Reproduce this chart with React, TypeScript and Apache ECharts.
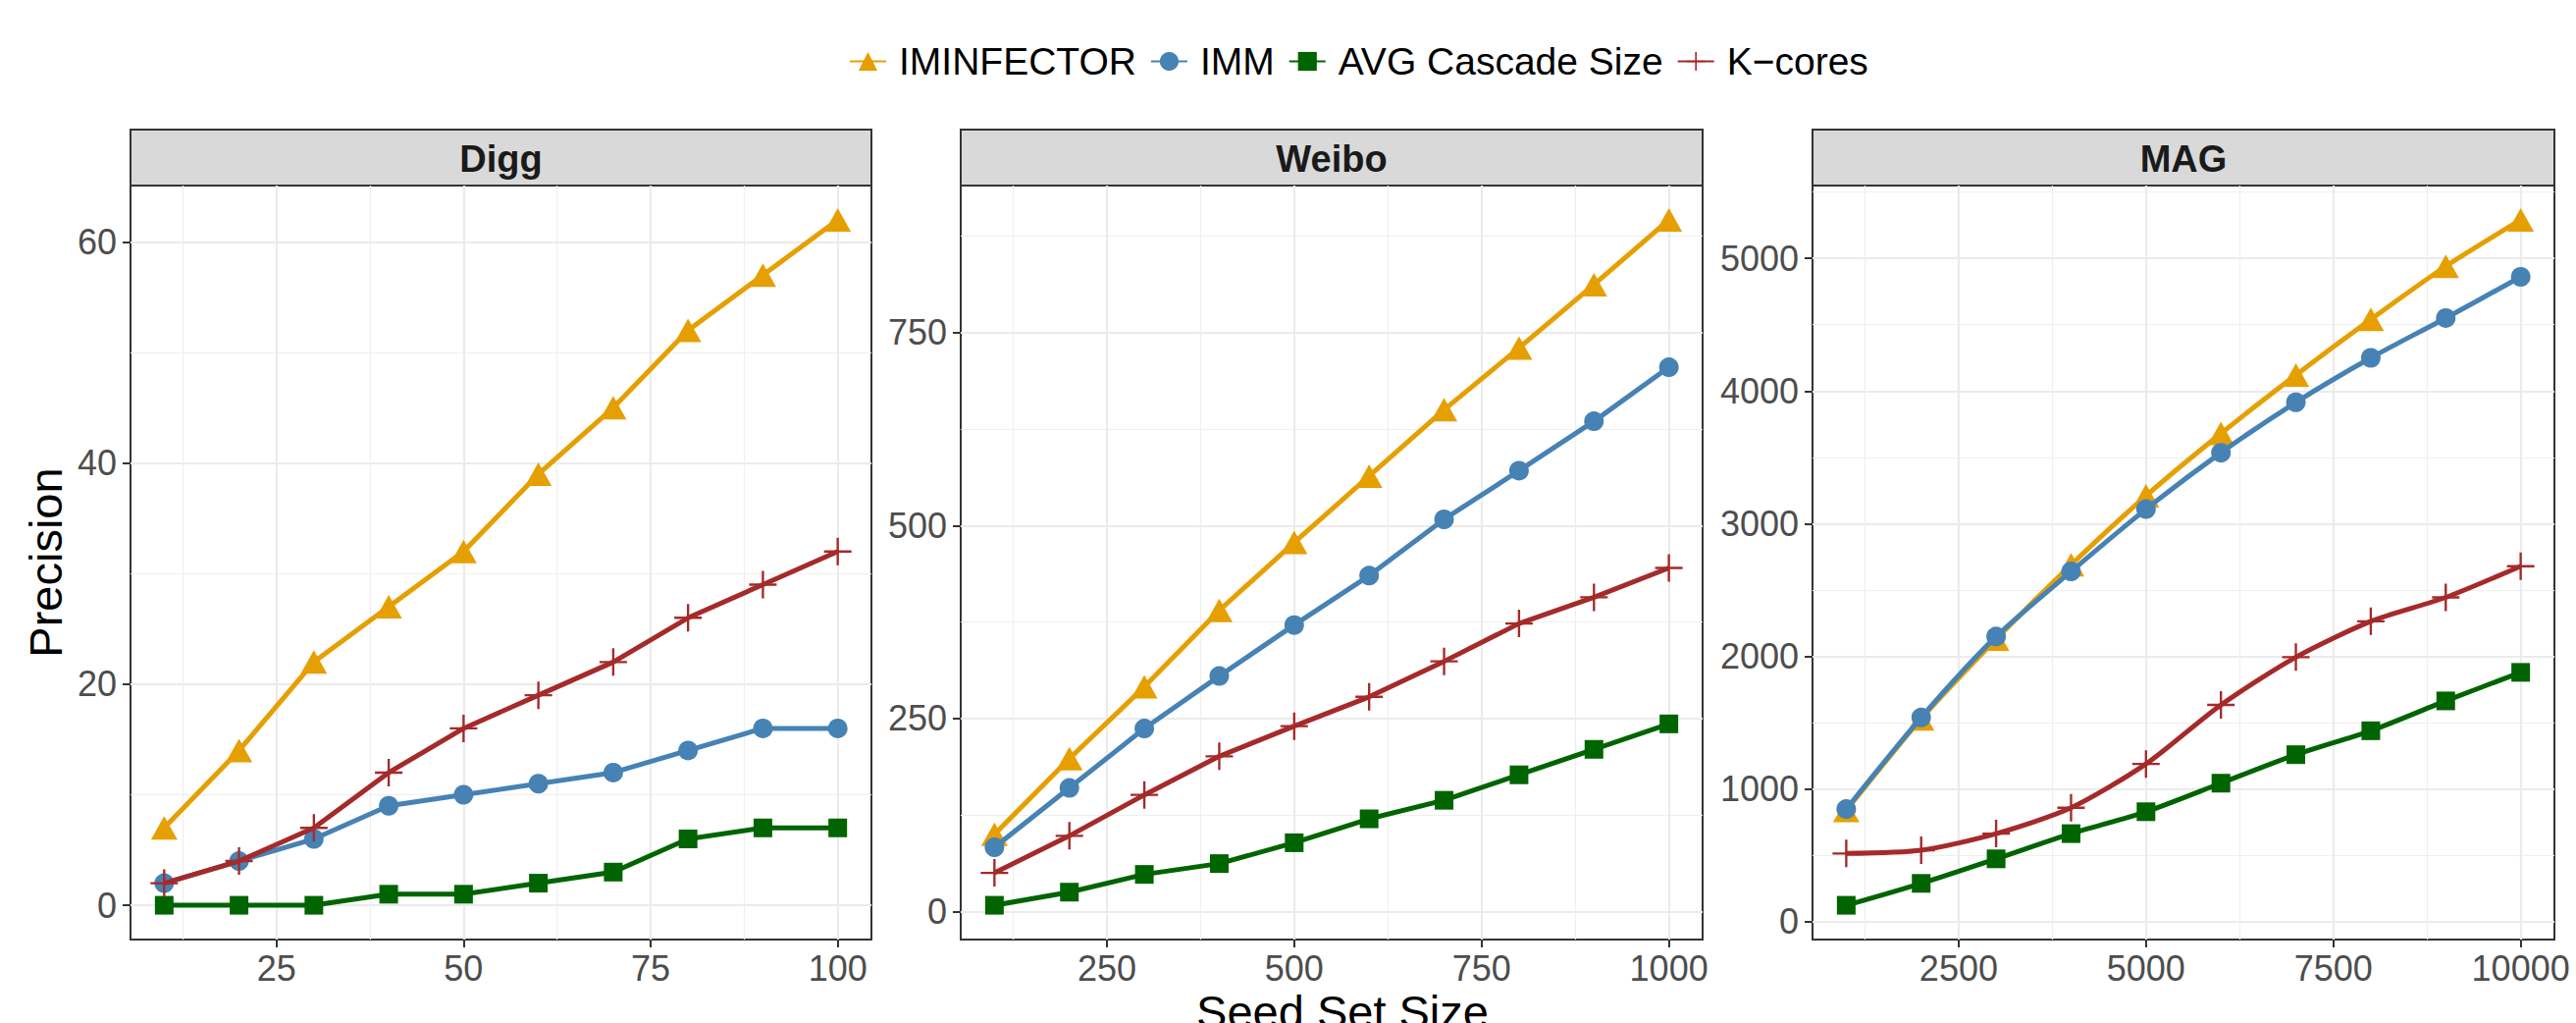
import React, { useEffect, useRef } from "react";
import * as echarts from "echarts";

const seriesNames = ["IMINFECTOR", "IMM", "AVG Cascade Size", "K−cores"];
const panelTitles = ["Digg", "Weibo", "MAG"];

const diggX = [10, 20, 30, 40, 50, 60, 70, 80, 90, 100];
const diggIminfector = [7, 14, 22, 27, 32, 39, 45, 52, 57, 62];
const diggImm = [2, 4, 6, 9, 10, 11, 12, 14, 16, 16];
const diggAvg = [0, 0, 0, 1, 1, 2, 3, 6, 7, 7];
const diggKcores = [2, 4, 7, 12, 16, 19, 22, 26, 29, 32];

const weiboX = [100, 200, 300, 400, 500, 600, 700, 800, 900, 1000];
const weiboIminfector = [100, 198, 291, 390, 478, 564, 650, 730, 812, 896];
const weiboImm = [83, 160, 237, 305, 371, 435, 508, 571, 635, 705];
const weiboAvg = [8, 25, 48, 62, 89, 120, 144, 177, 210, 243];
const weiboKcores = [50, 98, 151, 201, 240, 278, 324, 373, 407, 445];

const magX = [1000, 2000, 3000, 4000, 5000, 6000, 7000, 8000, 9000, 10000];
const magIminfector = [840, 1530, 2130, 2690, 3210, 3680, 4120, 4540, 4940, 5290];
const magImm = [850, 1540, 2150, 2640, 3110, 3535, 3915, 4250, 4550, 4860];
const magAvg = [125, 290, 475, 665, 830, 1045, 1260, 1440, 1665, 1880];
const magKcores = [515, 540, 665, 860, 1190, 1635, 1995, 2265, 2445, 2680];

const diggXTicks = [25, 50, 75, 100];
const diggXMinor = [12.5, 37.5, 62.5, 87.5];
const diggYTicks = [0, 20, 40, 60];
const diggYMinor = [10, 30, 50];

const weiboXTicks = [250, 500, 750, 1000];
const weiboXMinor = [125, 375, 625, 875];
const weiboYTicks = [0, 250, 500, 750];
const weiboYMinor = [125, 375, 625, 875];

const magXTicks = [2500, 5000, 7500, 10000];
const magXMinor = [1250, 3750, 6250, 8750];
const magYTicks = [0, 1000, 2000, 3000, 4000, 5000];
const magYMinor = [500, 1500, 2500, 3500, 4500, 5500];

const FONT = "'Liberation Sans', Arial, Helvetica, sans-serif";
const COLORS = ["#E69F00", "#4682B4", "#006400", "#A52A2A"];
const PLUS =
  "path://M-1.1,-13L1.1,-13L1.1,-1.1L13,-1.1L13,1.1L1.1,1.1L1.1,13L-1.1,13L-1.1,1.1L-13,1.1L-13,-1.1L-1.1,-1.1Z";
const SYMBOLS: any[] = ["triangle", "circle", "rect", PLUS];
const SYMBOL_SIZES: any[] = [[27, 24], 20, 19, 28];

const panels = [
  {
    x: diggX,
    ys: [diggIminfector, diggImm, diggAvg, diggKcores],
    xTicks: diggXTicks, xMinor: diggXMinor, yTicks: diggYTicks, yMinor: diggYMinor,
    smooth: false,
  },
  {
    x: weiboX,
    ys: [weiboIminfector, weiboImm, weiboAvg, weiboKcores],
    xTicks: weiboXTicks, xMinor: weiboXMinor, yTicks: weiboYTicks, yMinor: weiboYMinor,
    smooth: false,
  },
  {
    x: magX,
    ys: [magIminfector, magImm, magAvg, magKcores],
    xTicks: magXTicks, xMinor: magXMinor, yTicks: magYTicks, yMinor: magYMinor,
    smooth: 0.25,
  },
];

const gridLefts = [133, 979, 1847];
const gridWidths = [755, 756, 756];
const gridTop = 189;
const gridHeight = 768;
const stripTop = 132;

function expand(vals: number[]) {
  const mn = Math.min(...vals);
  const mx = Math.max(...vals);
  const r = mx - mn;
  return [mn - 0.05 * r, mx + 0.05 * r];
}

const plain = (v: number) => String(v);

export default function App() {
  const ref = useRef<HTMLDivElement>(null);
  useEffect(() => {
    if (!ref.current) return;
    const chart = echarts.init(ref.current, null, { renderer: "svg" });
    const grids: any[] = [];
    const xAxes: any[] = [];
    const yAxes: any[] = [];
    const series: any[] = [];
    const graphics: any[] = [];

    panels.forEach((p, i) => {
      grids.push({
        left: gridLefts[i],
        top: gridTop,
        width: gridWidths[i],
        height: gridHeight,
        show: true,
        backgroundColor: "#FFFFFF",
        borderColor: "#333333",
        borderWidth: 2,
        containLabel: false,
      });
      const [xmin, xmax] = expand(p.x);
      const [ymin, ymax] = expand(p.ys.flat());
      xAxes.push({
        type: "value",
        gridIndex: i,
        position: "bottom",
        min: xmin,
        max: xmax,
        axisLine: { show: false, onZero: false },
        axisTick: { show: true, length: 8, customValues: p.xTicks, lineStyle: { color: "#333333", width: 2 } },
        axisLabel: {
          customValues: p.xTicks,
          formatter: plain,
          fontSize: 36,
          color: "#4D4D4D",
          fontFamily: FONT,
          margin: 11,
        },
        splitLine: { show: true, lineStyle: { color: "#EBEBEB", width: 2.2 } },
      });
      xAxes.push({
        type: "value",
        gridIndex: i,
        position: "top",
        min: xmin,
        max: xmax,
        axisLine: { show: false, onZero: false },
        axisTick: { show: false, customValues: p.xMinor },
        axisLabel: { show: false, customValues: p.xMinor },
        splitLine: { show: true, lineStyle: { color: "#EFEFEF", width: 1.2 } },
      });
      yAxes.push({
        type: "value",
        gridIndex: i,
        position: "left",
        min: ymin,
        max: ymax,
        axisLine: { show: false, onZero: false },
        axisTick: { show: true, length: 8, customValues: p.yTicks, lineStyle: { color: "#333333", width: 2 } },
        axisLabel: {
          customValues: p.yTicks,
          formatter: plain,
          fontSize: 36,
          color: "#4D4D4D",
          fontFamily: FONT,
          margin: 14,
        },
        splitLine: { show: true, lineStyle: { color: "#EBEBEB", width: 2.2 } },
      });
      yAxes.push({
        type: "value",
        gridIndex: i,
        position: "right",
        min: ymin,
        max: ymax,
        axisLine: { show: false, onZero: false },
        axisTick: { show: false, customValues: p.yMinor },
        axisLabel: { show: false, customValues: p.yMinor },
        splitLine: { show: true, lineStyle: { color: "#EFEFEF", width: 1.2 } },
      });
      p.ys.forEach((ys, k) => {
        series.push({
          type: "line",
          name: seriesNames[k],
          xAxisIndex: 2 * i,
          yAxisIndex: 2 * i,
          data: p.x.map((xv, j) => [xv, ys[j]]),
          symbol: SYMBOLS[k],
          symbolSize: SYMBOL_SIZES[k],
          showSymbol: true,
          smooth: p.smooth,
          lineStyle: { color: COLORS[k], width: 5 },
          itemStyle: { color: COLORS[k], borderWidth: 0 },
          emphasis: { disabled: true },
          z: 2 + k,
        });
      });
      graphics.push({
        type: "rect",
        shape: { x: gridLefts[i], y: stripTop, width: gridWidths[i], height: gridTop - stripTop },
        style: { fill: "#D9D9D9", stroke: "#333333", lineWidth: 2 },
      });
      graphics.push({
        type: "text",
        x: gridLefts[i] + gridWidths[i] / 2,
        y: (stripTop + gridTop) / 2 + 1,
        style: {
          text: panelTitles[i],
          fontSize: 38,
          fontWeight: "bold",
          fontFamily: FONT,
          fill: "#1A1A1A",
          align: "center",
          verticalAlign: "middle",
        },
      });
    });

    graphics.push({
      type: "text",
      x: 46,
      y: gridTop + gridHeight / 2,
      rotation: Math.PI / 2,
      style: {
        text: "Precision",
        fontSize: 47,
        fontFamily: FONT,
        fill: "#000000",
        align: "center",
        verticalAlign: "middle",
      },
    });
    graphics.push({
      type: "text",
      x: (gridLefts[0] + gridLefts[2] + gridWidths[2]) / 2,
      y: 1030,
      style: {
        text: "Seed Set Size",
        fontSize: 47,
        fontFamily: FONT,
        fill: "#000000",
        align: "center",
        verticalAlign: "middle",
      },
    });

    chart.setOption({
      animation: false,
      backgroundColor: "#FFFFFF",
      textStyle: { fontFamily: FONT },
      legend: {
        data: seriesNames,
        top: 38,
        left: 860,
        itemWidth: 37,
        itemHeight: 24,
        itemGap: 14,
        textStyle: { fontSize: 39, color: "#000000", fontFamily: FONT, padding: [0, 0, 0, 8] },
      },
      grid: grids,
      xAxis: xAxes,
      yAxis: yAxes,
      series,
      graphic: graphics,
    });
    return () => chart.dispose();
  }, []);
  return (
    <div
      ref={ref}
      style={{ position: "fixed", left: 0, top: 0, width: 2625, height: 1042, background: "#fff" }}
    />
  );
}
